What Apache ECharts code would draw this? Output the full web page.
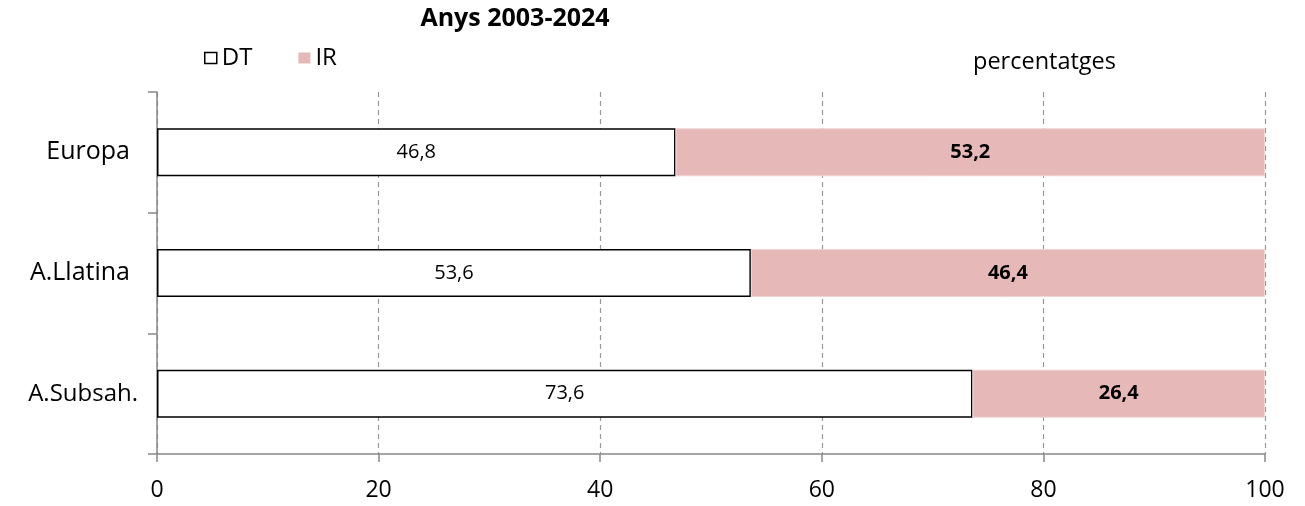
<!DOCTYPE html>
<html><head><meta charset="utf-8">
<script src="https://cdn.jsdelivr.net/npm/echarts@6/dist/echarts.min.js"></script>
<style>html,body{margin:0;padding:0;background:#fff}#c{width:1305px;height:506px}</style>
</head><body><div id="c"></div>
<script>
const categories = ['Europa', 'A.Llatina', 'A.Subsah.'];
const dtValues = [46.8, 53.6, 73.6];
const irValues = [53.2, 46.4, 26.4];
const xTicks = [0, 20, 40, 60, 80, 100];

const FONT = '"Open Sans", "Noto Sans", sans-serif';
const fmt = p => p.value.toFixed(1).replace('.', ',');

const chart = echarts.init(document.getElementById('c'), null, {renderer: 'canvas'});
chart.setOption({
  animation: false,
  textStyle: {fontFamily: FONT},
  title: {
    text: 'Anys 2003-2024', left: 515, top: 6, textAlign: 'center', padding: 0,
    textStyle: {fontFamily: FONT, fontWeight: 'bold', fontSize: 25, color: '#000', letterSpacing: 1.3}
  },
  legend: {
    left: 204, top: 46, itemWidth: 12, itemHeight: 11, itemGap: 46, icon: 'rect', padding: 0,
    textStyle: {fontFamily: FONT, fontSize: 24, color: '#000'},
    data: [
      {name: 'DT', itemStyle: {color: '#fff', borderColor: '#000', borderWidth: 1.5}},
      {name: 'IR', itemStyle: {color: '#e6b8b7', borderWidth: 0}}
    ]
  },
  graphic: [{
    type: 'text', left: 973, top: 50,
    style: {text: 'percentatges', font: '23.5px ' + FONT, fill: '#000'}
  }],
  grid: {left: 157, right: 40, top: 92, bottom: 52, containLabel: false},
  xAxis: {
    type: 'value', min: xTicks[0], max: xTicks[xTicks.length - 1], interval: 20,
    axisLine: {show: true, lineStyle: {color: '#888', width: 1.5}},
    axisTick: {show: true, length: 8, lineStyle: {color: '#888', width: 1.5}},
    axisLabel: {fontFamily: FONT, fontSize: 23, color: '#000', margin: 25},
    splitLine: {show: true, lineStyle: {color: '#999', type: [5, 4], width: 1.2}}
  },
  yAxis: {
    type: 'category', data: categories, inverse: true,
    axisLine: {show: true, lineStyle: {color: '#888', width: 1.5}},
    axisTick: {show: true, length: 9, lineStyle: {color: '#888', width: 1.5}},
    axisLabel: {
      fontFamily: FONT, fontSize: 25, color: '#000', margin: 27,
      formatter: v => v === 'A.Subsah.' ? '{s|' + v + '}' : v,
      rich: {s: {fontFamily: FONT, fontSize: 24, color: '#000', padding: [0, -8, 0, 0]}}
    }
  },
  series: [
    {
      name: 'DT', type: 'bar', stack: 'a', data: dtValues, barWidth: 48,
      itemStyle: {color: '#fff', borderColor: '#000', borderWidth: 1.5},
      label: {show: true, position: 'inside', formatter: fmt, fontFamily: FONT, fontSize: 20, color: '#000'}
    },
    {
      name: 'IR', type: 'bar', stack: 'a', data: irValues, barWidth: 48,
      itemStyle: {color: '#e6b8b7', borderColor: '#f0d4d3', borderWidth: 1},
      label: {show: true, position: 'inside', formatter: fmt, fontFamily: FONT, fontSize: 20, fontWeight: 'bold', color: '#000'}
    }
  ]
});
</script></body></html>
